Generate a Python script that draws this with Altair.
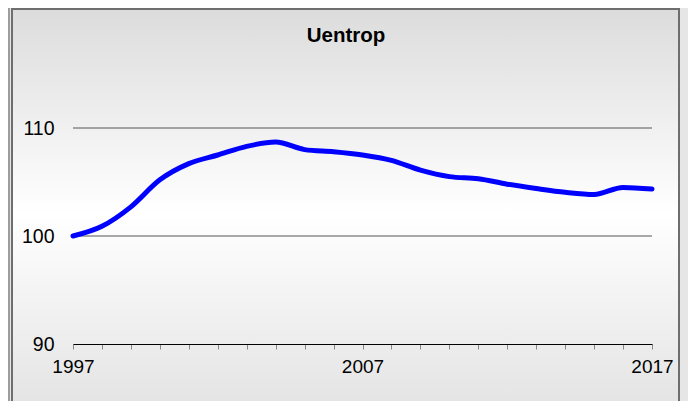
import altair as alt
import pandas as pd

# ---- data ----
years = list(range(1997, 2018))
values = [100.0, 100.9, 102.7, 105.2, 106.7, 107.5, 108.3, 108.7, 108.0, 107.8,
          107.5, 107.0, 106.1, 105.5, 105.3, 104.8, 104.4, 104.05, 103.85, 104.5, 104.35]
x_label_years = [1997, 2007, 2017]
y_ticks = [90, 100, 110]
grid_values = [100, 110]
title_text = ["Uentrop"]

FONT = "Liberation Sans"

df = pd.DataFrame({"year": years, "value": values})
grid_df = pd.DataFrame({"g": grid_values})
one = pd.DataFrame({"a": [0]})
title_df = pd.DataFrame({"t": title_text})

x_scale = alt.Scale(domain=[1997, 2017], nice=False, zero=False)
y_scale = alt.Scale(domain=[90, 110], nice=False, zero=False)

gradient = alt.Gradient(
    gradient="linear",
    stops=[
        alt.GradientStop(color="#dcdcdc", offset=0),
        alt.GradientStop(color="#ffffff", offset=0.5),
        alt.GradientStop(color="#e2e2e2", offset=1),
    ],
    x1=0, x2=0, y1=0, y2=1,
)

panel = alt.Chart(one).mark_rect(fill=gradient, stroke="#6e6e6e", strokeWidth=2).encode(
    x=alt.value(-61), x2=alt.value(606), y=alt.value(-119), y2=alt.value(290)
)

outer_line = alt.Chart(one).mark_rule(color="#555555", strokeWidth=1).encode(
    x=alt.value(-64), y=alt.value(-120), y2=alt.value(290)
)

grid = alt.Chart(grid_df).mark_rule(color="#555555", strokeWidth=1).encode(
    y=alt.Y("g:Q", scale=y_scale),
    x=alt.value(0), x2=alt.value(579),
)

line = alt.Chart(df).mark_line(
    color="#0000ff", strokeWidth=5, interpolate="monotone", strokeCap="round"
).encode(
    x=alt.X(
        "year:Q",
        scale=x_scale,
        axis=alt.Axis(
            values=years,
            format="d",
            labelExpr="indexof([" + ",".join(str(v) for v in x_label_years) + "], datum.value) >= 0 ? datum.label : ''",
            title=None,
            grid=False,
            tickSize=5,
            tickColor="#888888",
            domainColor="#000000",
            labelFontSize=19,
            labelFont=FONT,
            labelColor="#000000",
            labelPadding=8,
            labelFlush=False,
            labelOverlap=False,
            zindex=1,
        ),
    ),
    y=alt.Y(
        "value:Q",
        scale=y_scale,
        axis=alt.Axis(
            values=y_ticks,
            title=None,
            grid=False,
            ticks=False,
            tickSize=0,
            domain=False,
            labelFontSize=19.5,
            labelFont=FONT,
            labelColor="#000000",
            labelPadding=19,
            zindex=1,
        ),
    ),
)

title = alt.Chart(title_df).mark_text(
    font=FONT, fontSize=20.5, fontWeight="bold", color="#000000",
    align="center", baseline="alphabetic"
).encode(
    text="t:N", x=alt.value(273), y=alt.value(-86)
)

chart = alt.layer(panel, outer_line, grid, line, title).properties(
    width=579, height=216,
    autosize=alt.AutoSizeParams(type="none"),
    padding={"left": 65, "top": 120, "right": 36, "bottom": 57},
    background="#e6e6e6",
).configure_view(stroke=None)

chart.save("out.html", embed_options={"renderer": "svg", "actions": False})
